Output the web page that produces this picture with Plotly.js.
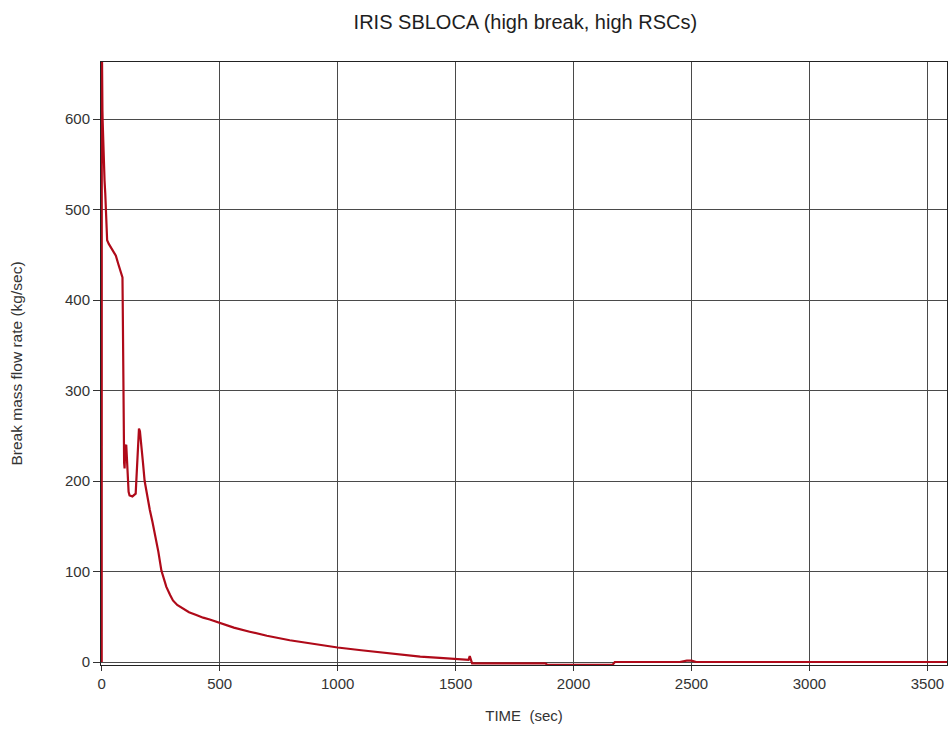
<!DOCTYPE html>
<html>
<head>
<meta charset="utf-8">
<script src="https://cdn.plot.ly/plotly-3.0.1.min.js"></script>
<style>html,body{margin:0;padding:0;background:#fff;}#chart{width:950px;height:731px;}</style>
</head>
<body>
<div id="chart"></div>
<script>
// Break mass flow rate vs time
const timeSec = [0, 0.3, 1, 2, 3, 4, 6, 9, 12, 15, 17, 19, 21, 23, 30, 40, 50, 60, 70, 80, 86, 88, 89, 90, 91, 93, 95, 97, 100, 104, 107, 110, 114, 118, 130, 144, 147, 150, 155, 158, 162, 165, 170, 175, 182, 190, 196, 204, 215, 225, 240, 253, 265, 274, 290, 302, 320, 345, 370, 401, 430, 458, 500, 560, 627, 700, 797, 900, 1000, 1100, 1250, 1350, 1433, 1500, 1555, 1560, 1566, 1570, 1700, 1880, 1890, 2000, 2165, 2175, 2300, 2450, 2480, 2500, 2520, 2700, 3000, 3300, 3600];
const flowRate = [0, 700, 665, 630, 610, 598, 575, 550, 532, 518, 505, 490, 472, 466, 462, 458, 454, 449, 440, 432, 428, 425, 400, 360, 330, 260, 220, 214, 238, 240, 225, 200, 188, 184, 183, 186, 200, 225, 240, 258, 255, 245, 232, 220, 200, 188, 178, 168, 155, 142, 122, 101, 90, 83, 74, 68, 63, 59, 55, 52, 49, 47, 43, 38, 33.5, 29, 24, 20, 16, 13, 8.5, 6, 4.5, 3.3, 2.5, 6.5, 1, -1.5, -1.5, -1.5, -3.2, -3.2, -3.2, 0, 0, 0, 1.5, 1.5, 0, 0, 0, 0, 0];
const xTicks = [0, 500, 1000, 1500, 2000, 2500, 3000, 3500];
const yTicks = [0, 100, 200, 300, 400, 500, 600];

const fontFam = '"Liberation Sans", Arial, sans-serif';
const gridCol = '#4a4a4a';

const trace = {
  x: timeSec, y: flowRate, type: 'scatter', mode: 'lines',
  line: {color: 'rgb(175,10,25)', width: 2.2},
  hoverinfo: 'skip'
};

const layout = {
  width: 950, height: 731,
  margin: {l: 101, r: 3, t: 62, b: 66},
  paper_bgcolor: '#fff', plot_bgcolor: '#fff',
  showlegend: false,
  title: {text: 'IRIS SBLOCA (high break, high RSCs)', x: 0.553, xanchor: 'center', y: 0.97, yanchor: 'middle',
          font: {family: fontFam, size: 20, color: '#1e1e1e'}},
  xaxis: {
    range: [-3, 3583], tickvals: xTicks, ticktext: xTicks.map(String),
    showgrid: true, gridcolor: gridCol, gridwidth: 1, zeroline: false,
    showline: true, linecolor: '#222', linewidth: 1, mirror: true,
    ticks: 'outside', ticklen: 5, tickcolor: '#333',
    tickfont: {family: fontFam, size: 15, color: '#333'},
    title: {text: 'TIME  (sec)', standoff: 19, font: {family: fontFam, size: 15, color: '#333'}}
  },
  yaxis: {
    range: [-3.3, 663], tickvals: yTicks, ticktext: yTicks.map(String),
    showgrid: true, gridcolor: gridCol, gridwidth: 1, zeroline: false,
    showline: true, linecolor: '#222', linewidth: 1, mirror: true,
    ticks: 'outside', ticklen: 7, tickcolor: '#333',
    tickfont: {family: fontFam, size: 15, color: '#333'},
    title: {text: 'Break mass flow rate (kg/sec)', standoff: 38, font: {family: fontFam, size: 15.5, color: '#333'}}
  }
};

Plotly.newPlot('chart', [trace], layout, {staticPlot: true, displayModeBar: false});
</script>
</body>
</html>
